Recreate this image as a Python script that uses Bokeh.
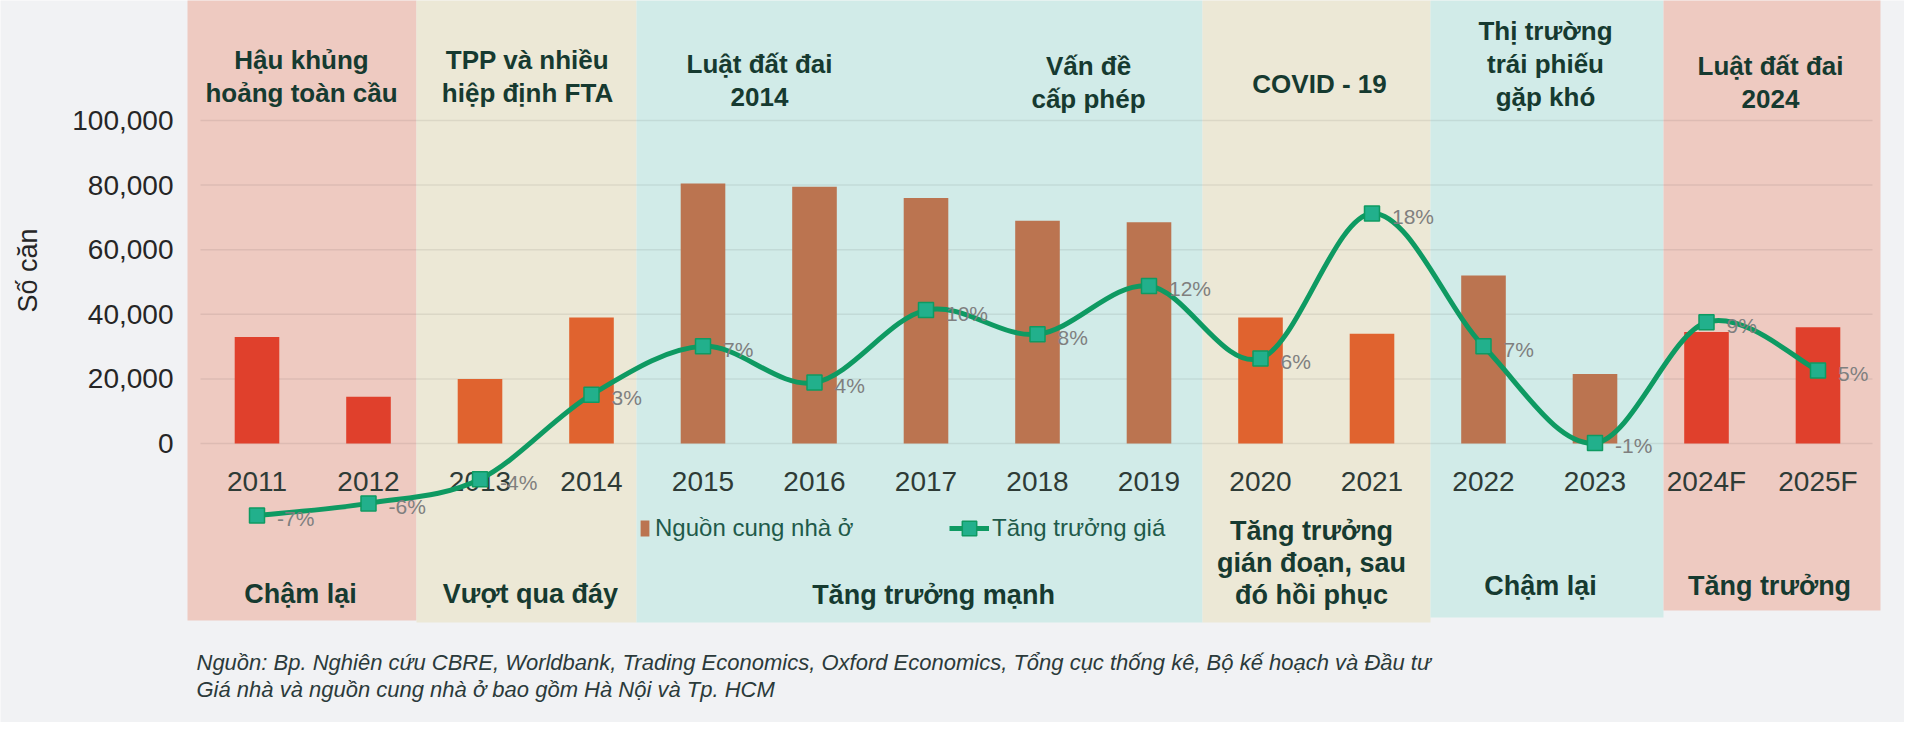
import numpy as np
from bokeh.plotting import figure
from bokeh.models import (Range1d, LinearAxis, FixedTicker, NumeralTickFormatter,
                          Legend, LegendItem)
from bokeh.core.properties import value
from bokeh.embed import file_html
from bokeh.resources import INLINE

# ---------------- data ----------------
years = ["2011", "2012", "2013", "2014", "2015", "2016", "2017", "2018", "2019",
         "2020", "2021", "2022", "2023", "2024F", "2025F"]
supply = [33000, 14500, 20000, 39000, 80500, 79500, 76000, 69000, 68500,
          39000, 34000, 52000, 21500, 34500, 36000]
price_growth = [-7, -6, -4, 3, 7, 4, 10, 8, 12, 6, 18, 7, -1, 9, 5]
bar_colors = ["#e0402c", "#e0402c", "#e0632f", "#e0632f", "#bb7450", "#bb7450",
              "#bb7450", "#bb7450", "#bb7450", "#e0632f", "#e0632f", "#bb7450",
              "#bb7450", "#e0402c", "#e0402c"]
y_ticks = [0, 20000, 40000, 60000, 80000, 100000]

top_titles = ["Hậu khủng\nhoảng toàn cầu", "TPP và nhiều\nhiệp định FTA", "Luật đất đai\n2014",
              "Vấn đề\ncấp phép", "COVID - 19", "Thị trường\ntrái phiếu\ngặp khó",
              "Luật đất đai\n2024"]
phases = ["Chậm lại", "Vượt qua đáy", "Tăng trưởng mạnh",
          "Tăng trưởng\ngián đoạn, sau\nđó hồi phục", "Chậm lại", "Tăng trưởng"]
source_lines = ["Nguồn: Bp. Nghiên cứu CBRE, Worldbank, Trading Economics, Oxford Economics, Tổng cục thống kê, Bộ kế hoạch và Đầu tư",
                "Giá nhà và nguồn cung nhà ở bao gồm Hà Nội và Tp. HCM"]

# ---------------- layout (picture pixels) ----------------
W, H = 1904, 722
PX0, PY0 = 0, 0                   # figure origin in the picture
X0, DX = 256.5, 111.5             # x of first category, step
Y0, KY = 443.0, 323.0 / 100000    # y of zero, px per unit
P0, KP = 430.4, 12.08             # y of 0 %, px per %

def xd(px):
    return (px - X0) / DX

def yd(py):
    return (Y0 - py) / KY

def pd(py):
    return (P0 - py) / KP

FNAME = "Liberation Sans"
FONT = value(FNAME)
BG = "#f1f2f4"
PINK, CREAM, TEAL = "#eecac1", "#ece8d6", "#d1ebe8"
TXT = "#163a30"

p = figure(width=W, height=H, output_backend="svg", toolbar_location=None,
           x_axis_type=None, y_axis_type=None,
           x_range=Range1d(xd(PX0), xd(PX0 + W)),
           y_range=Range1d(yd(PY0 + H), yd(PY0)),
           min_border=0, min_border_left=0, min_border_right=0,
           min_border_top=0, min_border_bottom=0)
p.extra_y_ranges = {"pct": Range1d(pd(PY0 + H), pd(PY0))}
p.background_fill_color = BG
p.border_fill_color = BG
p.outline_line_color = None
p.xgrid.visible = False
p.ygrid.visible = False

# period bands
bands = [(187, 416, 620, PINK), (416, 636, 622, CREAM), (636, 1202, 622, TEAL),
         (1202, 1430, 622, CREAM), (1430, 1663, 617, TEAL), (1663, 1880, 610, PINK)]
p.quad(left=[xd(b[0]) for b in bands], right=[xd(b[1]) for b in bands],
       bottom=[yd(b[2]) for b in bands], top=[yd(-20)] * len(bands),
       fill_color=[b[3] for b in bands], line_color=None, level="image")

# grid lines
p.segment(x0=[xd(200)] * len(y_ticks), x1=[xd(1872)] * len(y_ticks),
          y0=y_ticks, y1=y_ticks, line_color="#000000", line_alpha=0.07, line_width=1.5)

idx = list(range(len(years)))
bars = p.vbar(x=idx, top=supply, width=0.40, bottom=0,
              fill_color=bar_colors, line_color=None)

# smooth price growth line (Bezier segments through data points)
xs = np.arange(len(price_growth), dtype=float)
ys = np.array(price_growth, dtype=float)
xp = np.concatenate([[xs[0]], xs, [xs[-1]]])
yp = np.concatenate([[ys[0]], ys, [ys[-1]]])
i = np.arange(len(xs) - 1)
t = 1.0 / 6.0
curve = p.bezier(x0=xs[:-1], y0=ys[:-1], x1=xs[1:], y1=ys[1:],
                 cx0=xp[i + 1] + (xp[i + 2] - xp[i]) * t,
                 cy0=yp[i + 1] + (yp[i + 2] - yp[i]) * t,
                 cx1=xp[i + 2] - (xp[i + 3] - xp[i + 1]) * t,
                 cy1=yp[i + 2] - (yp[i + 3] - yp[i + 1]) * t,
                 line_color="#0e9a62", line_width=5, y_range_name="pct")
marks = p.scatter(x=idx, y=price_growth, marker="square", size=15,
                  fill_color="#22b08c", line_color="#0e9a62", line_width=1.5,
                  y_range_name="pct")
p.text(x=idx, y=price_growth, text=[f"{v}%" for v in price_growth],
       x_offset=20, y_offset=3, text_baseline="middle", text_align="left",
       text_font=FONT, text_font_size="21px", text_color="#7f7f7f",
       y_range_name="pct")

# axes
xaxis = LinearAxis(fixed_location=0, ticker=FixedTicker(ticks=idx),
                   major_label_overrides={k: v for k, v in zip(idx, years)})
yaxis = LinearAxis(fixed_location=xd(187), ticker=FixedTicker(ticks=y_ticks),
                   formatter=NumeralTickFormatter(format="0,0"))
for ax, col in ((xaxis, "#2e3b36"), (yaxis, "#262626")):
    ax.axis_line_color = None
    ax.major_tick_line_color = None
    ax.minor_tick_line_color = None
    ax.major_tick_in = 0
    ax.major_tick_out = 0
    ax.major_label_text_font = FNAME
    ax.major_label_text_font_size = "28px"
    ax.major_label_text_color = col
    ax.level = "underlay"
xaxis.major_label_standoff = 22
yaxis.major_label_standoff = 14
p.add_layout(xaxis, "below")
p.add_layout(yaxis, "left")

# y axis title
p.text(x=[xd(27)], y=[yd(270)], text=["Số căn"], angle=np.pi / 2,
       text_align="center", text_baseline="middle", text_font=FONT,
       text_font_size="27px", text_color="#262626")

# band titles
top_pos = [(301, 59), (527, 59), (759, 63), (1088, 65), (1319, 83), (1545, 30), (1770, 65)]
tx, ty, tt = [], [], []
for title, (cx, cy) in zip(top_titles, top_pos):
    for k, line in enumerate(title.split("\n")):
        tx.append(xd(cx)); ty.append(yd(cy + 33 * k)); tt.append(line)
p.text(x=tx, y=ty, text=tt, text_align="center", text_baseline="middle",
       text_font=FONT, text_font_style="bold", text_font_size="26px", text_color=TXT)

bot_pos = [(300, 593), (530, 593), (933, 594), (1311, 530), (1540, 585), (1769, 585)]
bx, by, bt = [], [], []
for title, (cx, cy) in zip(phases, bot_pos):
    for k, line in enumerate(title.split("\n")):
        bx.append(xd(cx)); by.append(yd(cy + 32 * k)); bt.append(line)
p.text(x=bx, y=by, text=bt, text_align="center", text_baseline="middle",
       text_font=FONT, text_font_style="bold", text_font_size="27px", text_color=TXT)

# source notes
p.text(x=[xd(196)] * 2, y=[yd(662), yd(689)], text=source_lines,
       text_align="left", text_baseline="middle", text_font=FONT,
       text_font_style="italic", text_font_size="22px", text_color="#2b3a3a")

# legends
common = dict(orientation="horizontal", padding=0, margin=0, border_line_color=None,
              background_fill_alpha=0, label_text_font=FNAME,
              label_text_font_size="24px", label_text_color="#1f5a4a",
              label_height=20)
leg1 = Legend(items=[LegendItem(label="Nguồn cung nhà ở", renderers=[bars], index=4)],
              location=(639, 180), glyph_width=11, glyph_height=20, label_standoff=5, **common)
leg2 = Legend(items=[LegendItem(label="Tăng trưởng giá", renderers=[curve, marks])],
              location=(949, 176), glyph_width=40, glyph_height=36, label_standoff=3, **common)
p.add_layout(leg1)
p.add_layout(leg2)

open("out.html", "w").write(file_html(p, INLINE))
